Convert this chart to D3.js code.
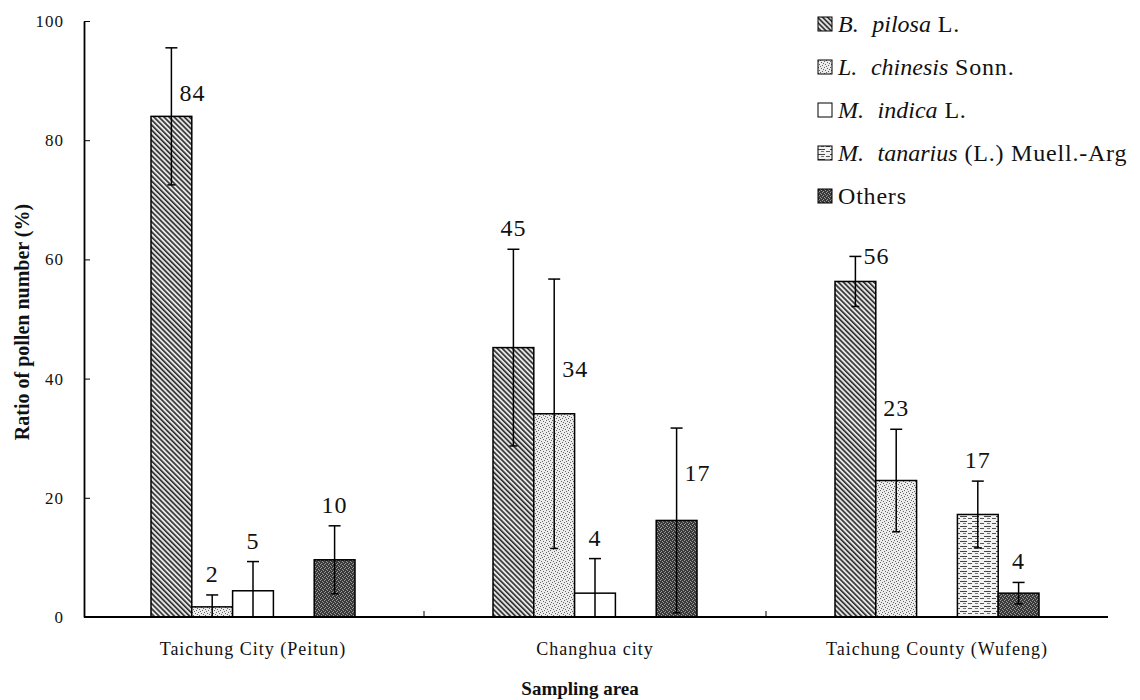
<!DOCTYPE html>
<meta charset='utf-8'>
<style>
  body { margin: 0; background: #fff; }
  svg text { font-family: "Liberation Serif", "Times New Roman", serif; fill: #111; }
</style>
<body>
<div class="chart"></div>
<script src="https://cdn.jsdelivr.net/npm/d3@7/dist/d3.min.js"></script>
<script>

// sampling areas (x categories)
var areas = ['Taichung City (Peitun)', 'Changhua city', 'Taichung County (Wufeng)'];
var species = ['pilosa', 'chinensis', 'indica', 'tanarius', 'others'];

// mean ratio (%) per species, one value per area
var pilosaMean    = [84, 45.2, 56.3];
var chinensisMean = [1.7, 34.1, 22.9];
var indicaMean    = [4.4, 4.0, 0];
var tanariusMean  = [0, 0, 17.2];
var othersMean    = [9.6, 16.2, 4.0];

// error (sd) per species, one value per area
var pilosaSd    = [11.5, 16.5, 4.2];
var chinensisSd = [2.0, 22.6, 8.6];
var indicaSd    = [4.9, 5.8, 0];
var tanariusSd  = [0, 0, 5.6];
var othersSd    = [5.7, 15.5, 1.8];

// printed numbers
var pilosaLab    = ['84', '45', '56'];
var chinensisLab = ['2', '34', '23'];
var indicaLab    = ['5', '4', ''];
var tanariusLab  = ['', '', '17'];
var othersLab    = ['10', '17', '4'];

var yTicks = [0, 20, 40, 60, 80, 100];

var means  = { pilosa: pilosaMean, chinensis: chinensisMean, indica: indicaMean, tanarius: tanariusMean, others: othersMean };
var sds    = { pilosa: pilosaSd, chinensis: chinensisSd, indica: indicaSd, tanarius: tanariusSd, others: othersSd };
var labs   = { pilosa: pilosaLab, chinensis: chinensisLab, indica: indicaLab, tanarius: tanariusLab, others: othersLab };

// labels drawn beside the error line instead of above the cap (value = middle of label)
var sideLabel = { 'pilosa-0': 88, 'chinensis-1': 41.6, 'others-1': 24.2, 'pilosa-2': 60.5 };

var width = 1140, height = 700;

var svg = d3.select('.chart')
	.append('svg')
	.attr('width', width)
	.attr('height', height)
	.attr('font-family', '"Liberation Serif", serif');

var defs = svg.append('defs');

// B. pilosa : dense diagonal hatch
var p1 = defs.append('pattern').attr('id', 'pat-pilosa')
	.attr('patternUnits', 'userSpaceOnUse').attr('width', 3.6).attr('height', 3.6)
	.attr('patternTransform', 'rotate(-45)');
p1.append('rect').attr('width', 3.6).attr('height', 3.6).attr('fill', '#e6e6e6');
p1.append('rect').attr('width', 1.6).attr('height', 3.6).attr('fill', '#2a2a2a');

// L. chinensis : fine light stipple
var p2 = defs.append('pattern').attr('id', 'pat-chinensis')
	.attr('patternUnits', 'userSpaceOnUse').attr('width', 6).attr('height', 6);
p2.append('rect').attr('width', 6).attr('height', 6).attr('fill', '#ececec');
[[0,0],[3,1],[1,3],[4,4],[2,5],[5,2]].forEach(function(d){
	p2.append('rect').attr('x', d[0]).attr('y', d[1]).attr('width', 1).attr('height', 1).attr('fill', '#666');
});

// M. tanarius : broken horizontal lines
var p4 = defs.append('pattern').attr('id', 'pat-tanarius')
	.attr('patternUnits', 'userSpaceOnUse').attr('width', 12).attr('height', 5);
p4.append('rect').attr('width', 12).attr('height', 5).attr('fill', '#f2f2f2');
p4.append('rect').attr('x', 0).attr('y', 1).attr('width', 7).attr('height', 1).attr('fill', '#444');
p4.append('rect').attr('x', 8).attr('y', 3).attr('width', 4).attr('height', 1).attr('fill', '#555');
p4.append('rect').attr('x', 3).attr('y', 3).attr('width', 3).attr('height', 1).attr('fill', '#777');

// Others : dark stipple
var p5 = defs.append('pattern').attr('id', 'pat-others')
	.attr('patternUnits', 'userSpaceOnUse').attr('width', 4).attr('height', 4);
p5.append('rect').attr('width', 4).attr('height', 4).attr('fill', '#3a3a3a');
[[0,0],[2,1],[1,3],[3,2]].forEach(function(d){
	p5.append('rect').attr('x', d[0]).attr('y', d[1]).attr('width', 1).attr('height', 1).attr('fill', '#9a9a9a');
});

var fills = d3.scaleOrdinal()
	.domain(species)
	.range(['url(#pat-pilosa)', 'url(#pat-chinensis)', '#fff', 'url(#pat-tanarius)', 'url(#pat-others)']);

var x0 = d3.scaleBand().domain(areas).range([82, 1108]).padding(0);
var x1 = d3.scaleBand().domain(species).range([-102, 102]).padding(0);
var y = d3.scaleLinear().domain([0, 100]).range([617, 21]);

// flatten to bar records
var bars = [];
areas.forEach(function(a, i){
	species.forEach(function(s){
		bars.push({ area: a, i: i, sp: s, v: means[s][i], sd: sds[s][i], lab: labs[s][i] });
	});
});

function cx(d){ return x0(d.area) + x0.bandwidth() / 2 + x1(d.sp) + x1.bandwidth() / 2; }

// bars
svg.append('g').selectAll('rect')
	.data(bars.filter(function(d){ return d.v > 0; }))
	.enter().append('rect')
	.attr('x', function(d){ return x0(d.area) + x0.bandwidth() / 2 + x1(d.sp); })
	.attr('width', x1.bandwidth())
	.attr('y', function(d){ return y(d.v); })
	.attr('height', function(d){ return y(0) - y(d.v); })
	.attr('fill', function(d){ return fills(d.sp); })
	.attr('stroke', '#000')
	.attr('stroke-width', 1.5);

// error bars
var err = svg.append('g').attr('stroke', '#000').attr('stroke-width', 1.5);
bars.filter(function(d){ return d.sd > 0; }).forEach(function(d){
	var c = cx(d), hi = y(d.v + d.sd), lo = y(Math.max(0, d.v - d.sd));
	err.append('line').attr('x1', c).attr('x2', c).attr('y1', hi).attr('y2', lo);
	err.append('line').attr('x1', c - 6).attr('x2', c + 6).attr('y1', hi).attr('y2', hi);
	err.append('line').attr('x1', c - 4).attr('x2', c + 4).attr('y1', lo).attr('y2', lo);
});

// value labels
svg.append('g').selectAll('text')
	.data(bars.filter(function(d){ return d.lab !== ''; }))
	.enter().append('text')
	.attr('font-size', 24)
	.attr('letter-spacing', 1)
	.attr('text-anchor', function(d){ return sideLabel[d.sp + '-' + d.i] !== undefined ? 'start' : 'middle'; })
	.attr('x', function(d){ return sideLabel[d.sp + '-' + d.i] !== undefined ? cx(d) + 8 : cx(d); })
	.attr('y', function(d){
		var k = d.sp + '-' + d.i;
		if (sideLabel[k] !== undefined) return y(sideLabel[k]) + 8;
		return y(d.v + d.sd) - 13;
	})
	.text(function(d){ return d.lab; });

// y axis
var yAxis = d3.axisLeft(y).tickValues(yTicks).tickSizeInner(-6).tickSizeOuter(0).tickPadding(20);
var gy = svg.append('g').attr('transform', 'translate(84,0)').call(yAxis);
gy.attr('font-family', null);
gy.select('.domain').attr('stroke', '#000').attr('stroke-width', 1.8);
gy.selectAll('.tick line').attr('stroke', '#000');
gy.selectAll('.tick text')
	.attr('font-size', 17)
	.attr('letter-spacing', 1)
	.attr('fill', '#111');

// x axis baseline and category separators
svg.append('line')
	.attr('x1', 84).attr('x2', 1108)
	.attr('y1', y(0)).attr('y2', y(0))
	.attr('stroke', '#000').attr('stroke-width', 2);
svg.append('g').selectAll('line')
	.data(areas.slice(1))
	.enter().append('line')
	.attr('x1', function(d){ return x0(d); }).attr('x2', function(d){ return x0(d); })
	.attr('y1', y(0)).attr('y2', y(0) - 6)
	.attr('stroke', '#000');

svg.append('g').selectAll('text')
	.data(areas)
	.enter().append('text')
	.attr('x', function(d){ return x0(d) + x0.bandwidth() / 2; })
	.attr('y', 655)
	.attr('text-anchor', 'middle')
	.attr('font-size', 18)
	.attr('letter-spacing', 1)
	.text(function(d){ return d; });

// axis titles
svg.append('text')
	.attr('x', 580).attr('y', 695)
	.attr('text-anchor', 'middle')
	.attr('font-weight', 'bold')
	.attr('font-size', 19)
	.text('Sampling area');

svg.append('text')
	.attr('transform', 'translate(29,322) rotate(-90)')
	.attr('text-anchor', 'middle')
	.attr('font-weight', 'bold')
	.attr('font-size', 20)
	.text('Ratio of pollen number (%)');

// legend
var legendItems = [
	[['B.', true], ['  ', false], ['pilosa', true], [' L.', false]],
	[['L.', true], ['  ', false], ['chinesis', true], [' Sonn.', false]],
	[['M.', true], ['  ', false], ['indica', true], [' L.', false]],
	[['M.', true], ['  ', false], ['tanarius', true], [' (L.) Muell.-Arg', false]],
	[['Others', false]]
];

var legend = svg.append('g').attr('transform', 'translate(818,24)');
var rows = legend.selectAll('g')
	.data(species)
	.enter().append('g')
	.attr('transform', function(d, i){ return 'translate(0,' + (i * 43) + ')'; });

rows.append('rect')
	.attr('x', 0).attr('y', -7)
	.attr('width', 14).attr('height', 14)
	.attr('fill', function(d){ return fills(d); })
	.attr('stroke', '#000')
	.attr('stroke-width', 1);

rows.append('text')
	.attr('x', 20).attr('y', 8)
	.attr('font-size', 24)
	.attr('xml:space', 'preserve')
	.style('white-space', 'pre')
	.each(function(d, i){
		var t = d3.select(this);
		legendItems[i].forEach(function(part){
			t.append('tspan')
				.attr('font-style', part[1] ? 'italic' : 'normal')
				.attr('letter-spacing', part[1] ? 0 : 0.8)
				.text(part[0]);
		});
	});

</script>
</body>
</html>
